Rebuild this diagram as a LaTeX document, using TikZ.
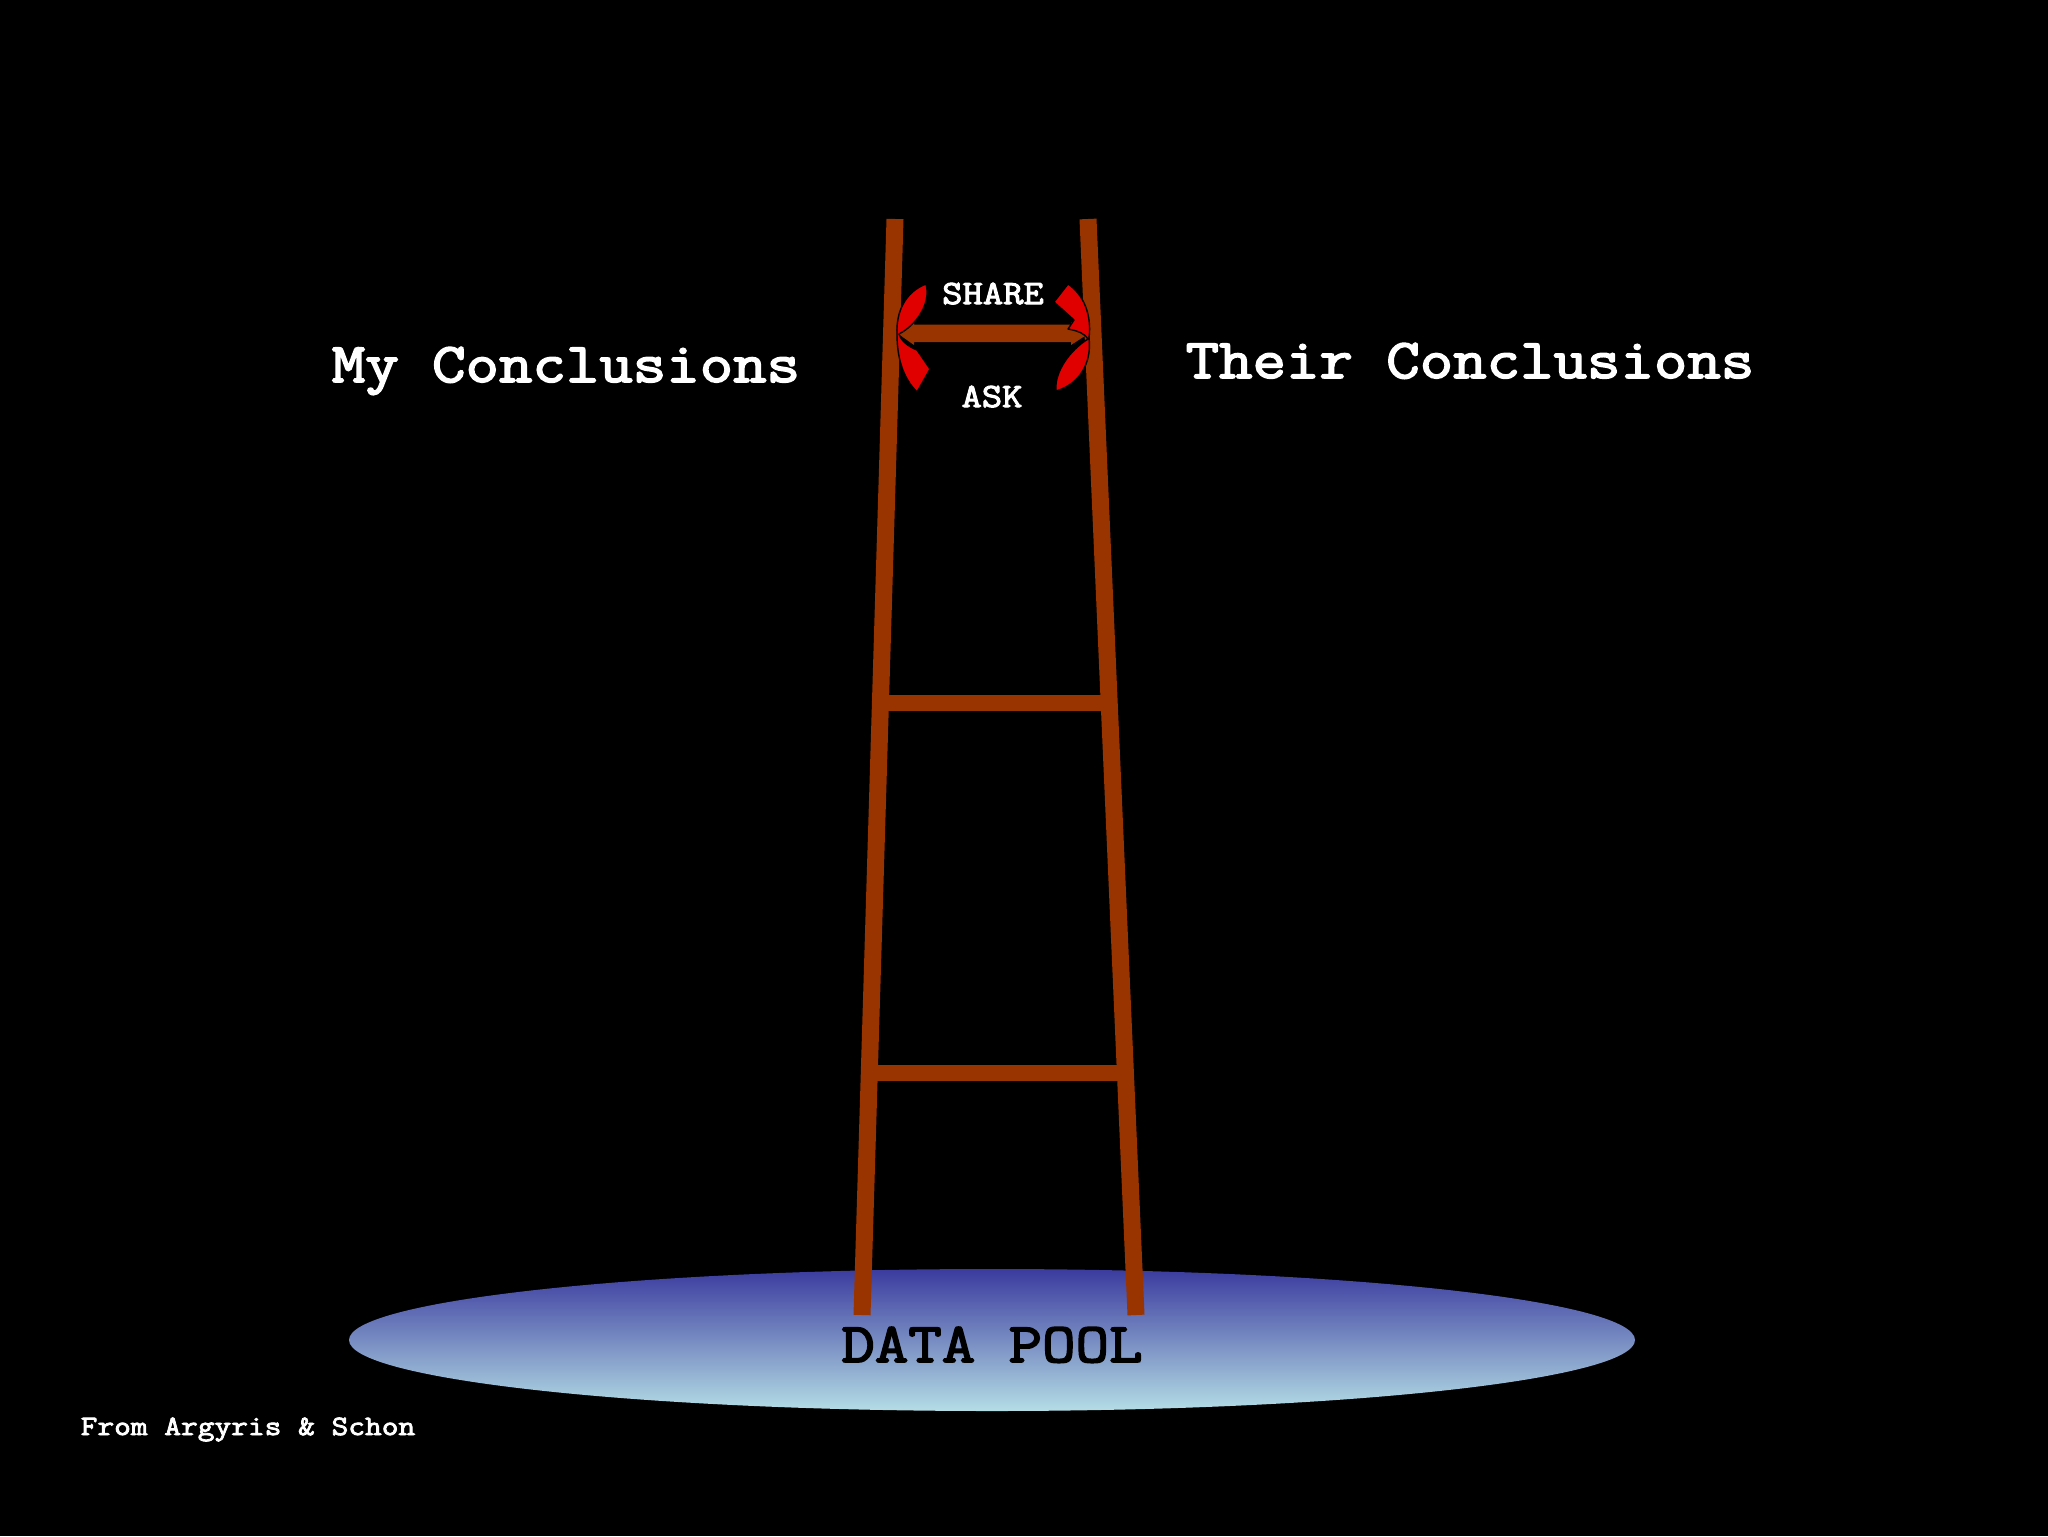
\documentclass[tikz,border=0pt]{standalone}
\usepackage{fontspec}
\newfontfamily\courfont[FakeStretch=1.16, FakeBold=3]{Latin Modern Mono}
\usetikzlibrary{calc}
\definecolor{railbrown}{HTML}{993300}
\definecolor{arrowred}{HTML}{E00000}
\definecolor{pooltop}{HTML}{3B3B9E}
\definecolor{poolmid}{HTML}{7A86C6}
\definecolor{poolbot}{HTML}{B4DDE6}
\tikzset{
  railline/.style={draw=railbrown, line width=8.5pt, line cap=butt},
  rungline/.style={draw=railbrown, line width=8pt, line cap=butt},
  redarrow/.style={fill=arrowred, draw=black, line width=0.7pt, line join=round},
  bigtext/.style={font=\courfont\fontsize{28}{34}\selectfont, text=white, inner sep=0pt, anchor=base},
  midtext/.style={font=\courfont\fontsize{17}{20}\selectfont, text=white, inner sep=0pt, anchor=base},
  smalltext/.style={font=\courfont\fontsize{14}{17}\selectfont, text=white, inner sep=0pt, anchor=base}
}
\begin{document}
\begin{tikzpicture}[x=0.5pt,y=-0.5pt]
\fill[black] (0,0) rectangle (2048,1536);
\useasboundingbox (0,0) rectangle (2048,1536);

% data pool
\shade[top color=pooltop, middle color=poolmid, bottom color=poolbot]
  (992,1340) ellipse [x radius=643, y radius=71];

% ladder
\coordinate (lt) at (895,219);
\coordinate (lb) at (862,1315);
\coordinate (rt) at (1088,219);
\coordinate (rb) at (1136,1315);
\draw[rungline] ($(lt)!0.4416!(lb)$) -- ($(rt)!0.4416!(rb)$);
\draw[rungline] ($(lt)!0.7792!(lb)$) -- ($(rt)!0.7792!(rb)$);
\draw[railline] (lt) -- (lb);
\draw[railline] (rt) -- (rb);

% double-headed bar
\fill[railbrown] (897,333) -- (914,321) -- (914,324.5) -- (1071,324.5) -- (1071,322)
  -- (1088,334) -- (1071,345) -- (1071,342) -- (914,342) -- (914,345) -- cycle;

% red curved arrows
\path[redarrow] (926,284) .. controls (905,292) and (896,312) .. (897,334)
  .. controls (897,356) and (902,377) .. (917,392)
  -- (930,369) -- (917,350)
  .. controls (909,347) and (901,341) .. (899,334)
  .. controls (918,324) and (931,302) .. (926,284) -- cycle;
\path[redarrow] (1068,284) .. controls (1083,294) and (1092,314) .. (1089,338)
  .. controls (1092,362) and (1080,384) .. (1056,391)
  .. controls (1054,372) and (1070,350) .. (1088,339)
  .. controls (1085,334) and (1079,331) .. (1068,329)
  -- (1074,320) -- (1054,302) -- cycle;

% texts
\node[bigtext] (my) at (566,382) {My Conclusions};
\node[bigtext] (their) at (1470,378) {Their Conclusions};
\node[midtext] (share) at (993,304) {SHARE};
\node[midtext] (ask) at (992,407) {ASK};
\node[bigtext, text=black] (pool) at (992,1362) {DATA POOL};
\node[smalltext] (from) at (248,1435) {From Argyris \& Schon};
\end{tikzpicture}
\end{document}
